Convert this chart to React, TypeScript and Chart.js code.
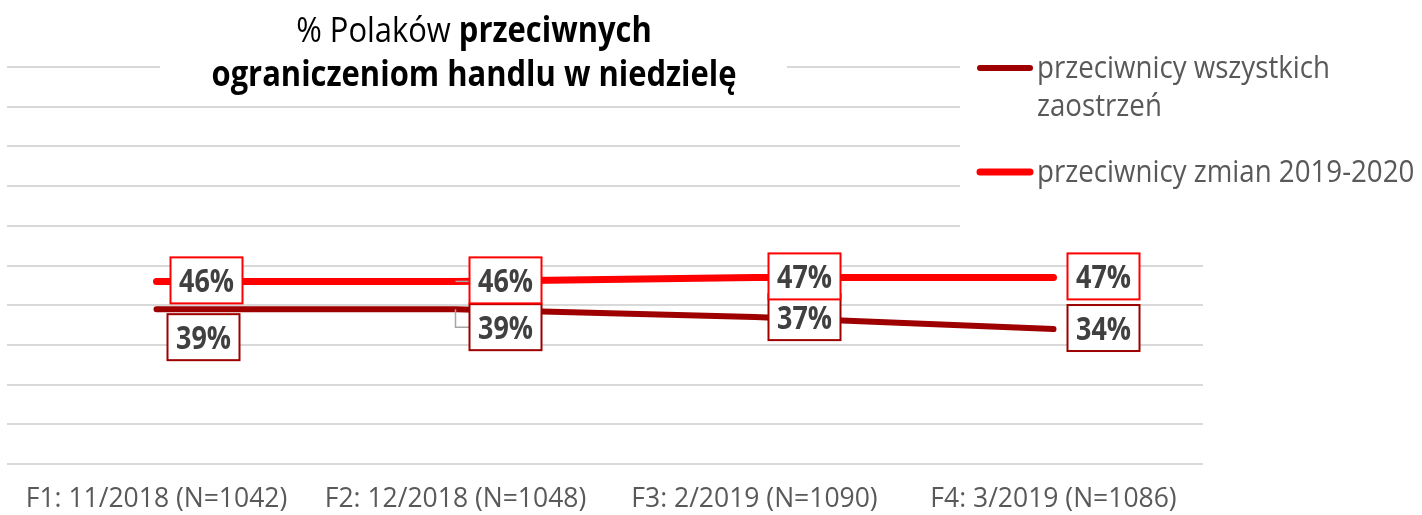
import React, { useEffect, useRef } from 'react';
import { Chart, registerables } from 'chart.js';

Chart.register(...registerables);

// ---- data ----
const categories = [
  'F1: 11/2018 (N=1042)',
  'F2: 12/2018 (N=1048)',
  'F3: 2/2019 (N=1090)',
  'F4: 3/2019 (N=1086)',
];
const opponentsAllRestrictions = [39, 39, 37, 34];
const opponentsChanges2019_2020 = [46, 46, 47, 47];
const legendAll = ['przeciwnicy wszystkich', 'zaostrzeń'];
const legendChanges = ['przeciwnicy zmian 2019-2020'];
const yMin = 0;
const yMax = 100;
const yStep = 10;
const titleLine1Normal = '% Polaków ';
const titleLine1Bold = 'przeciwnych';
const titleLine2Bold = 'ograniczeniom handlu w niedzielę';

// ---- styles ----
const DARK = '#9E0000';
const RED = '#FF0000';
const GRID = '#D9D9D9';
const TEXT_GRAY = '#595959';
const LABEL_TEXT = '#404040';
const FONT = '"Open Sans", "Noto Sans", sans-serif';

// label placement (offset of box centre from the point, px)
const darkLabelOffsets = [[47, 28], [50, 18], [50, 0], [50, -1]];
const redLabelOffsets = [[50, -1], [50, -1], [50, -1], [50, -1]];
const darkLeaders = [false, true, false, false];
const redLeaders = [false, true, false, false];

// draw horizontally condensed text (imitates a narrow face)
function condensedText(ctx: CanvasRenderingContext2D, text: string, x: number, y: number, sx: number, align: 'left' | 'center') {
  const w = ctx.measureText(text).width * sx;
  const left = align === 'center' ? x - w / 2 : x;
  ctx.save();
  ctx.textAlign = 'left';
  ctx.translate(left, y);
  ctx.scale(sx, 1);
  ctx.fillText(text, 0, 0);
  ctx.restore();
  return w;
}

const overlayPlugin = {
  id: 'overlay',
  afterDatasetsDraw(chart: any) {
    const ctx = chart.ctx as CanvasRenderingContext2D;
    const boxW = 72;
    const boxH = 46;
    ctx.save();
    ctx.font = `bold 32px ${FONT}`;
    const labelSx = 55 / ctx.measureText('46%').width;
    ctx.restore();
    const drawSet = (dsIndex: number, values: number[], offsets: number[][], leaders: boolean[], color: string) => {
      const meta = chart.getDatasetMeta(dsIndex);
      meta.data.forEach((pt: any, i: number) => {
        const cx = pt.x + offsets[i][0];
        const cy = pt.y + offsets[i][1];
        const left = cx - boxW / 2;
        if (leaders[i]) {
          ctx.save();
          ctx.strokeStyle = '#A6A6A6';
          ctx.lineWidth = 1.5;
          ctx.beginPath();
          ctx.moveTo(pt.x, pt.y);
          const ty = Math.abs(cy - pt.y) > 3 ? cy : pt.y;
          ctx.lineTo(pt.x, ty);
          ctx.lineTo(left, ty);
          ctx.stroke();
          ctx.restore();
        }
        ctx.save();
        ctx.fillStyle = '#FFFFFF';
        ctx.fillRect(left, cy - boxH / 2, boxW, boxH);
        ctx.strokeStyle = color;
        ctx.lineWidth = 2;
        ctx.strokeRect(left, cy - boxH / 2, boxW, boxH);
        ctx.fillStyle = LABEL_TEXT;
        ctx.font = `bold 32px ${FONT}`;
        ctx.textBaseline = 'alphabetic';
        condensedText(ctx, `${values[i]}%`, cx, cy + 12, labelSx, 'center');
        ctx.restore();
      });
    };
    drawSet(0, opponentsAllRestrictions, darkLabelOffsets, darkLeaders, DARK);
    drawSet(1, opponentsChanges2019_2020, redLabelOffsets, redLeaders, RED);
  },
  afterDraw(chart: any) {
    const ctx = chart.ctx as CanvasRenderingContext2D;
    ctx.save();
    // title
    ctx.fillStyle = '#FFFFFF';
    ctx.fillRect(160, 0, 627, 100);
    const cx = 474;
    ctx.textBaseline = 'alphabetic';
    const normalFont = `35px ${FONT}`;
    const boldFont = `bold 35px ${FONT}`;
    ctx.font = boldFont;
    const titleSx = 525 / ctx.measureText(titleLine2Bold).width;
    ctx.font = normalFont;
    const w1 = ctx.measureText(titleLine1Normal).width * titleSx;
    ctx.font = boldFont;
    const w2 = ctx.measureText(titleLine1Bold).width * titleSx;
    const x = cx - (w1 + w2) / 2;
    ctx.fillStyle = '#000000';
    ctx.font = normalFont;
    condensedText(ctx, titleLine1Normal, x, 42, titleSx, 'left');
    ctx.font = boldFont;
    condensedText(ctx, titleLine1Bold, x + w1, 42, titleSx, 'left');
    condensedText(ctx, titleLine2Bold, cx, 86, titleSx, 'center');

    // legend
    ctx.fillStyle = '#FFFFFF';
    ctx.fillRect(960, 40, 462, 208);
    ctx.lineCap = 'round';
    ctx.strokeStyle = DARK;
    ctx.lineWidth = 6;
    ctx.beginPath();
    ctx.moveTo(980, 68);
    ctx.lineTo(1030, 68);
    ctx.stroke();
    ctx.strokeStyle = RED;
    ctx.lineWidth = 7;
    ctx.beginPath();
    ctx.moveTo(980, 172);
    ctx.lineTo(1030, 172);
    ctx.stroke();
    ctx.fillStyle = TEXT_GRAY;
    ctx.font = `31px ${FONT}`;
    const legSx = 293 / ctx.measureText(legendAll[0]).width;
    condensedText(ctx, legendAll[0], 1037, 78, legSx, 'left');
    condensedText(ctx, legendAll[1], 1037, 116, legSx, 'left');
    condensedText(ctx, legendChanges[0], 1037, 182, legSx, 'left');
    ctx.restore();
  },
};

export default function App() {
  const ref = useRef<HTMLCanvasElement | null>(null);
  useEffect(() => {
    if (!ref.current) return;
    const chart = new Chart(ref.current, {
      type: 'line',
      data: {
        labels: categories,
        datasets: [
          {
            label: legendAll.join(' '),
            data: opponentsAllRestrictions,
            borderColor: DARK,
            backgroundColor: DARK,
            borderWidth: 6,
            pointRadius: 0,
            borderCapStyle: 'round',
            tension: 0,
          },
          {
            label: legendChanges[0],
            data: opponentsChanges2019_2020,
            borderColor: RED,
            backgroundColor: RED,
            borderWidth: 7,
            pointRadius: 0,
            borderCapStyle: 'round',
            tension: 0,
          },
        ],
      },
      options: {
        responsive: false,
        animation: false,
        devicePixelRatio: 1,
        layout: { padding: { left: 7, right: 219, top: 67, bottom: 0 } },
        plugins: {
          legend: { display: false },
          title: { display: false },
          tooltip: { enabled: false },
        },
        scales: {
          x: {
            offset: true,
            grid: { display: false, drawTicks: false },
            border: { display: false },
            ticks: {
              color: TEXT_GRAY,
              font: { family: FONT, size: 26.5, lineHeight: 1 },
              padding: 22,
              maxRotation: 0,
              autoSkip: false,
            },
            afterFit: (s: any) => { s.height = 51; },
          },
          y: {
            min: yMin,
            max: yMax,
            ticks: { display: false, stepSize: yStep },
            grid: { color: GRID, lineWidth: 2, drawTicks: false },
            border: { display: false },
            afterFit: (s: any) => { s.width = 0; },
          },
        },
      },
      plugins: [overlayPlugin],
    } as any);
    return () => chart.destroy();
  }, []);
  return (
    <div style={{ position: 'absolute', left: 0, top: 0, width: 1422, height: 515, background: '#fff' }}>
      <canvas ref={ref} width={1422} height={515} style={{ display: 'block' }} />
    </div>
  );
}
